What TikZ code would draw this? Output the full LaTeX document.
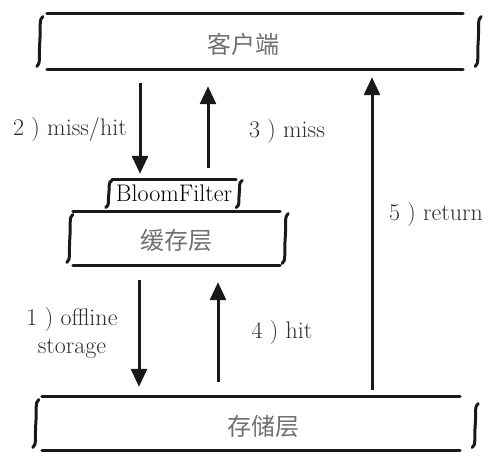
\documentclass[tikz,border=0pt]{standalone}
\usepackage{fontspec}
\usetikzlibrary{arrows.meta}
\newfontfamily\cjk{Noto Sans CJK SC}
\definecolor{inkgray}{HTML}{2E2E2E}
\definecolor{cngray}{HTML}{707070}
\tikzset{
  rim/.style={line width=3pt,black!90,line cap=round},
  flow/.style={line width=3pt,black!90,-{Triangle[width=16pt,length=18pt]}},
  layer/.style={inner sep=0pt},
  cntext/.style={font=\cjk\fontsize{24}{28}\selectfont,text=cngray},
  steplabel/.style={font=\fontsize{24}{28}\selectfont,text=inkgray,align=center},
  curl/.pic={\draw[rim] (3,-#1/2) .. controls (-1,-#1/2+2) and (1,-#1/4) .. (0,0)
    .. controls (-1,#1/4) and (1,#1/2-2) .. (-3,#1/2);}
}
\begin{document}
\begin{tikzpicture}[x=1pt,y=-1pt]
\useasboundingbox (0,0) rectangle (504,458);
% Client layer
\node[layer,minimum width=416pt,minimum height=55pt,
  label={[cntext,xshift=-12pt,yshift=-2.5pt]center:客户端}] (client) at (255,41.5) {};
\draw[rim] (client.north west) -- (client.north east) (client.south west) -- (client.south east);
\pic at ([xshift=-7pt]client.west) {curl=50};
\pic at ([xshift=15pt]client.east) {curl=50};
% Bloom filter
\node[layer,minimum width=124pt,minimum height=26pt,font=\fontsize{24}{28}\selectfont]
  (bloom) at (174,193) {BloomFilter};
\draw[rim] (bloom.north west) -- (bloom.north east);
\pic at ([xshift=-3pt,yshift=-1pt]bloom.west) {curl=27};
\pic at ([xshift=3pt,yshift=-1pt]bloom.east) {curl=27};
% Cache layer
\node[layer,minimum width=207pt,minimum height=53pt,
  label={[cntext,yshift=-1.5pt]center:缓存层}] (cache) at (176.5,238.5) {};
\draw[rim] (cache.north west) -- (cache.north east) (cache.south west) -- (cache.south east);
\pic at ([xshift=-3pt]cache.west) {curl=48};
\pic at ([xshift=5pt]cache.east) {curl=50};
% Storage layer
\node[layer,minimum width=418pt,minimum height=53pt,
  label={[cntext,xshift=12pt,yshift=-3pt]center:存储层}] (store) at (251,423.5) {};
\draw[rim] (store.north west) -- (store.north east) (store.south west) -- (store.south east);
\pic at ([xshift=-6pt]store.west) {curl=48};
\pic at ([xshift=15pt,yshift=-2pt]store.east) {curl=44};
% Requests and answers
\draw[flow,shorten <=14pt,shorten >=6pt] (client.south -| 140,0) -- (bloom.north -| 140,0);
\draw[flow,shorten <=12pt,shorten >=17pt] (bloom.north -| 208,0) -- (client.south -| 208,0);
\draw[flow,shorten <=7pt,shorten >=8pt] (store.north -| 372,0) -- (client.south -| 372,0);
\draw[flow,shorten <=15pt,shorten >=10pt] (cache.south -| 139,0) -- (store.north -| 139,0);
\draw[flow,shorten <=15pt,shorten >=17pt] (store.north -| 218,0) -- (cache.south -| 218,0);
% Step labels
\node[steplabel] (l2) at (70,130) {2 ) miss/hit};
\node[steplabel] (l3) at (287,132) {3 ) miss};
\node[steplabel] (l5) at (436,215) {5 ) return};
\node[steplabel] (l1) at (72,333) {1 ) offline\\storage};
\node[steplabel] (l4) at (282,333) {4 ) hit};
\end{tikzpicture}
\end{document}
